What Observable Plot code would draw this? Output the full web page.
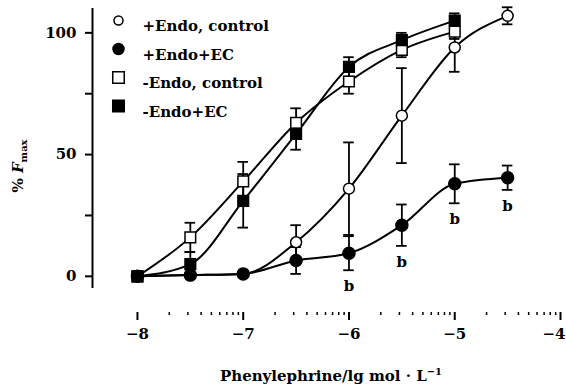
<!DOCTYPE html>
<html><head><meta charset="utf-8">
<script src="https://cdn.jsdelivr.net/npm/d3@7"></script>
<script src="https://cdn.jsdelivr.net/npm/@observablehq/plot@0.6"></script>
<style>body{margin:0;background:#fff} svg{display:block}</style>
</head><body><div id="chart"></div>
<script>
// ---- data ----
const logConc = [-8, -7.5, -7, -6.5, -6, -5.5, -5, -4.5];
const seriesNames = ["+Endo, control", "+Endo+EC", "-Endo, control", "-Endo+EC"];
const endoControl = [0, 0.5, 1, 14, 36, 66, 94, 107];
const endoControlErr = [0, 0, 0, 7, 19, 19.5, 10, 3.5];
const endoEC = [0, 0.5, 1, 6.5, 9.5, 21, 38, 40.5];
const endoECErr = [0, 0, 0, 5.5, 7, 8.5, 8, 5];
const endoECMarks = ["", "", "", "", "b", "b", "b", "b"];
const noEndoControl = [0, 16, 39, 63, 80, 93, 100.5];
const noEndoControlErr = [0, 6, 8, 6, 5, 3, 3];
const noEndoEC = [0, 5, 31, 58.5, 86, 97, 105];
const noEndoECErr = [0, 5, 11, 6.5, 4, 3, 3];
const xTicks = [-8, -7, -6, -5, -4];
const yTicks = [0, 50, 100];
const yMinorTicks = [25, 75];
const xLabel = "Phenylephrine/lg mol · L";
const xLabelSup = "−1";

// ---- styles ----
const FONT = "'DejaVu Serif', 'Liberation Serif', serif";
const xDomain = [-8.425, -4];
const yDomain = [-5, 110];
const xMinorTicks = d3.range(-8, -4).flatMap(n => d3.range(2, 10).map(k => n + Math.log10(k)));

const styles = [
  {symbol: "circle", fill: "white", r: 5.5, lr: 4.5},
  {symbol: "circle", fill: "black", r: 6, lr: 5.5},
  {symbol: "square", fill: "white", r: 6, lr: 6.5},
  {symbol: "square", fill: "black", r: 6, lr: 6.5}
];
const values = [endoControl, endoEC, noEndoControl, noEndoEC];
const errs = [endoControlErr, endoECErr, noEndoControlErr, noEndoECErr];

const series = seriesNames.map((name, si) =>
  values[si].map((v, i) => ({series: name, si, x: logConc[i], y: v, err: errs[si][i],
    mark: si === 1 ? endoECMarks[i] : ""})));

const marks = [];
marks.push(Plot.ruleX([xDomain[0]], {strokeWidth: 2}));
// lines
series.forEach(s => marks.push(Plot.line(s, {x: "x", y: "y", curve: "monotone-x", strokeWidth: 2, stroke: "black"})));
// error bars
series.forEach(s => {
  const e = s.filter(d => d.err > 0);
  marks.push(Plot.ruleX(e, {x: "x", y1: d => d.y - d.err, y2: d => d.y + d.err, strokeWidth: 1.8}));
  marks.push(Plot.ruleY(e, {y: d => d.y + d.err, x1: d => d.x - 0.05, x2: d => d.x + 0.05, strokeWidth: 1.8}));
  marks.push(Plot.ruleY(e, {y: d => d.y - d.err, x1: d => d.x - 0.05, x2: d => d.x + 0.05, strokeWidth: 1.8}));
});
// symbols
series.forEach((s, si) => marks.push(Plot.dot(s, {x: "x", y: "y", symbol: styles[si].symbol, r: styles[si].r,
  fill: styles[si].fill, stroke: "black", strokeWidth: 1.5})));
// significance marks
marks.push(Plot.text(series[1].filter(d => d.mark), {x: "x", y: d => d.y - d.err, text: "mark", dy: 16,
  fontSize: 15, fontWeight: "bold"}));
// legend
seriesNames.forEach((name, i) => {
  const dy = 12 + i * 28.5;
  marks.push(Plot.dot([name], {frameAnchor: "top-left", dx: 26, dy, symbol: styles[i].symbol, r: styles[i].lr,
    fill: styles[i].fill, stroke: "black", strokeWidth: 1.5}));
  marks.push(Plot.text([name], {frameAnchor: "top-left", dx: 50, dy, textAnchor: "start", fontSize: 15, fontWeight: "bold"}));
});
// axes
marks.push(Plot.axisY({ticks: yTicks, tickSize: 7, tickPadding: 9, label: null, strokeWidth: 2, fontSize: 15, fontWeight: "bold"}));
marks.push(Plot.axisY({ticks: yMinorTicks, tickSize: 7, tickFormat: () => "", label: null, strokeWidth: 2}));
marks.push(Plot.axisX({ticks: xTicks, tickSize: 8, tickPadding: 8, label: null, strokeWidth: 2, fontSize: 15, fontWeight: "bold",
  tickFormat: d3.format("d")}));
marks.push(Plot.axisX({ticks: xMinorTicks, tickSize: 3, tickFormat: () => "", label: null, strokeWidth: 1.5}));

const svg = Plot.plot({
  width: 566, height: 387,
  marginLeft: 92, marginRight: 6, marginTop: 8, marginBottom: 99,
  x: {domain: xDomain},
  y: {domain: yDomain},
  style: `font-family: ${FONT}; font-size: 14px; background: white; color: black;`,
  marks
});

// shift x axis down (separate axis below plot)
svg.querySelectorAll('g[aria-label="x-axis tick"], g[aria-label="x-axis tick label"]').forEach(g => {
  g.setAttribute("transform", (g.getAttribute("transform") || "") + " translate(0,24)");
});
// keep the last tick label inside the picture
svg.querySelectorAll('g[aria-label="x-axis tick label"] text').forEach(t => {
  if (t.textContent === d3.format("d")(xTicks[xTicks.length - 1])) {
    t.setAttribute("text-anchor", "end");
    t.setAttribute("dx", "5");
  }
});

const s = d3.select(svg);
const yl = s.append("text")
  .attr("transform", "translate(23,166) rotate(-90)")
  .attr("text-anchor", "middle")
  .style("font-family", FONT).style("font-size", "15px").style("font-weight", "bold");
yl.append("tspan").text("% ");
yl.append("tspan").style("font-style", "italic").text("F");
yl.append("tspan").attr("dy", "0.35em").style("font-size", "10px").text("max");

const xl = s.append("text")
  .attr("x", 331).attr("y", 381)
  .attr("text-anchor", "middle")
  .style("font-family", FONT).style("font-size", "15px").style("font-weight", "bold");
xl.append("tspan").text(xLabel);
xl.append("tspan").attr("dy", "-6").style("font-size", "10px").text(xLabelSup);

document.getElementById("chart").appendChild(svg);
</script>
</body></html>
